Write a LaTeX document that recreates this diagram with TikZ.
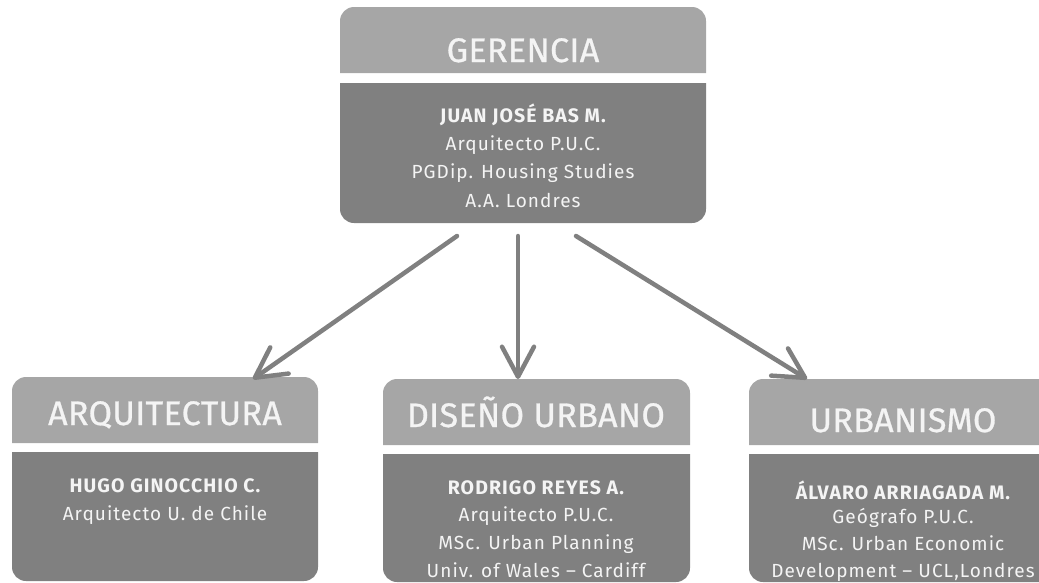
\documentclass[tikz,border=0pt]{standalone}
\usepackage{fontspec}
\setmainfont{Fira Sans}
\newfontfamily\bodyfont[LetterSpace=5.5]{Fira Sans}
\newfontfamily\titlefont[LetterSpace=1,FakeBold=0.8]{Fira Sans}
\usetikzlibrary{arrows.meta}
\definecolor{hdr}{HTML}{A6A6A6}
\definecolor{bdy}{HTML}{808080}
\definecolor{txt}{HTML}{F4F4F4}
\tikzset{
  title/.style={anchor=base, text=txt, inner sep=0pt, font=\titlefont\fontsize{34}{34}\selectfont},
  nametxt/.style={anchor=base, text=txt, inner sep=0pt, font=\bodyfont\fontsize{19.5}{19.5}\selectfont\bfseries},
  linetxt/.style={anchor=base, text=txt, inner sep=0pt, font=\bodyfont\fontsize{19}{19}\selectfont},
  conn/.style={draw=bdy, line width=4.5pt, line cap=round, -{Straight Barb[length=30pt,width=32pt,round]}}
}
\newcommand{\orgshape}[6]{%
  \fill[hdr] (#1,#4) [rounded corners=14pt] -- (#1,#3) -- (#2,#3) [sharp corners] -- (#2,#4) -- cycle;
  \fill[bdy] (#1,#5) -- (#2,#5) [rounded corners=14pt] -- (#2,#6) -- (#1,#6) [sharp corners] -- cycle;
}
\begin{document}
\begin{tikzpicture}[x=1pt,y=-1pt]
\useasboundingbox (0,0) rectangle (1039,582);
% boxes
\orgshape{340}{706}{7}{73}{83}{223}
\orgshape{12}{318}{377}{443}{452}{581}
\orgshape{383}{690}{379}{445}{454}{582}
\orgshape{749}{1057}{379}{445}{454}{582}
% top
\node[title] (gt) at (523,62) {GERENCIA};
\node[nametxt] (g1) at (523,122) {JUAN JOSÉ BAS M.};
\node[linetxt] (g2) at (523,150) {Arquitecto P.U.C.};
\node[linetxt] (g3) at (523,178) {PGDip. Housing Studies};
\node[linetxt] (g4) at (523,207) {A.A. Londres};
% left
\node[title] (at) at (165,425) {ARQUITECTURA};
\node[nametxt] (a1) at (165,492) {HUGO GINOCCHIO C.};
\node[linetxt] (a2) at (165,520) {Arquitecto U. de Chile};
% middle
\node[title] (dt) at (536,427) {DISEÑO URBANO};
\node[nametxt] (d1) at (536,494) {RODRIGO REYES A.};
\node[linetxt] (d2) at (536,521) {Arquitecto P.U.C.};
\node[linetxt] (d3) at (536,549) {MSc. Urban Planning};
\node[linetxt] (d4) at (536,577) {Univ. of Wales – Cardiff};
% right
\node[title] (ut) at (903,432) {URBANISMO};
\node[nametxt] (u1) at (903,499) {ÁLVARO ARRIAGADA M.};
\node[linetxt] (u2) at (903,523) {Geógrafo P.U.C.};
\node[linetxt] (u3) at (903,550) {MSc. Urban Economic};
\node[linetxt] (u4) at (903,577) {Development – UCL,Londres};
% arrows
\coordinate (sL) at (457,236);
\coordinate (sM) at (518,236);
\coordinate (sR) at (576,236);
\coordinate (eL) at (253,379);
\coordinate (eM) at (518,379);
\coordinate (eR) at (807,379);
\draw[conn] (sL) -- (eL);
\draw[conn] (sM) -- (eM);
\draw[conn] (sR) -- (eR);
\end{tikzpicture}
\end{document}
